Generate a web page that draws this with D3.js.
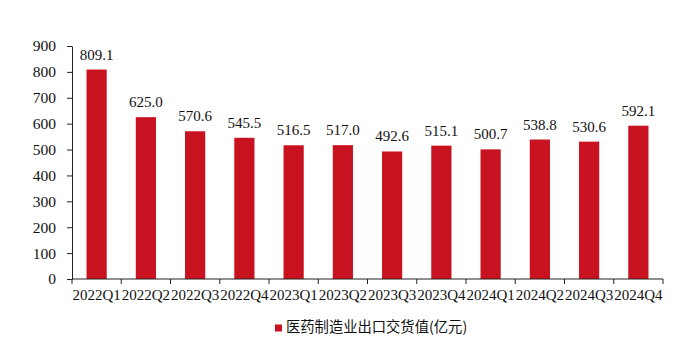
<!DOCTYPE html>
<html>
<head>
<meta charset="utf-8">
<script src="https://cdn.jsdelivr.net/npm/d3@7"></script>
<style>
  body { margin: 0; background: #fff; }
  svg { display: block; }
</style>
</head>
<body>
<div id="chart"></div>
<script>
// 季度
const quarters = ["2022Q1", "2022Q2", "2022Q3", "2022Q4", "2023Q1", "2023Q2",
                  "2023Q3", "2023Q4", "2024Q1", "2024Q2", "2024Q3", "2024Q4"];
// 医药制造业出口交货值(亿元)
const exportValues = [809.1, 625.0, 570.6, 545.5, 516.5, 517.0,
                      492.6, 515.1, 500.7, 538.8, 530.6, 592.1];
const yTicks = [0, 100, 200, 300, 400, 500, 600, 700, 800, 900];
const seriesName = "医药制造业出口交货值(亿元)";

const width = 700, height = 353;
const margin = { left: 72, right: 37, top: 46, bottom: 74 };
const barColor = "#c8121f";
const serif = "'Liberation Serif', 'DejaVu Serif', serif";

const svg = d3.select("#chart").append("svg")
    .attr("width", width)
    .attr("height", height);

const x = d3.scaleBand()
    .domain(quarters)
    .range([margin.left, width - margin.right])
    .paddingInner(0.59)
    .paddingOuter(0.295);

const y = d3.scaleLinear()
    .domain([0, 900])
    .range([height - margin.bottom, margin.top]);

// 柱子
svg.selectAll("rect.bar")
    .data(exportValues)
    .enter()
    .append("rect")
    .attr("class", "bar")
    .attr("x", (d, i) => x(quarters[i]))
    .attr("y", d => y(d))
    .attr("width", x.bandwidth())
    .attr("height", d => y(0) - y(d))
    .attr("fill", barColor);

// 数值标签
svg.selectAll("text.val")
    .data(exportValues)
    .enter()
    .append("text")
    .attr("class", "val")
    .attr("x", (d, i) => x(quarters[i]) + x.bandwidth() / 2)
    .attr("y", d => y(d) - 10)
    .attr("text-anchor", "middle")
    .attr("font-family", serif)
    .attr("font-size", "15px")
    .attr("fill", "#111")
    .text(d => d.toFixed(1));

// y轴
const yAxis = svg.append("g")
    .attr("transform", `translate(${margin.left},0)`)
    .call(d3.axisLeft(y).tickValues(yTicks).tickSize(5).tickSizeOuter(0).tickPadding(11));
yAxis.select(".domain").attr("stroke", "#222");
yAxis.selectAll(".tick line").attr("stroke", "#222");
yAxis.selectAll("text")
    .attr("font-family", serif)
    .attr("font-size", "15.5px")
    .attr("fill", "#111");

// x轴：刻度在类别之间
const xAxisG = svg.append("g")
    .attr("transform", `translate(0,${y(0)})`);
xAxisG.append("line")
    .attr("x1", margin.left)
    .attr("x2", width - margin.right)
    .attr("stroke", "#222");
const boundaries = d3.range(quarters.length + 1).map(i => margin.left + i * (width - margin.left - margin.right) / quarters.length);
xAxisG.selectAll("line.tick")
    .data(boundaries)
    .enter()
    .append("line")
    .attr("class", "tick")
    .attr("x1", d => d)
    .attr("x2", d => d)
    .attr("y1", 0)
    .attr("y2", 5)
    .attr("stroke", "#222");
xAxisG.selectAll("text")
    .data(quarters)
    .enter()
    .append("text")
    .attr("x", d => x(d) + x.bandwidth() / 2)
    .attr("y", 21)
    .attr("text-anchor", "middle")
    .attr("font-family", serif)
    .attr("font-size", "15px")
    .attr("fill", "#111")
    .text(d => d);

// 图例
const legend = svg.append("g")
    .attr("transform", "translate(275,321)");
legend.append("rect")
    .attr("width", 7)
    .attr("height", 7)
    .attr("y", 3.5)
    .attr("fill", barColor);
legend.append("text")
    .attr("x", 11)
    .attr("y", 7)
    .attr("dominant-baseline", "middle")
    .attr("font-family", "'Noto Sans CJK SC', sans-serif")
    .attr("font-size", "14.3px")
    .attr("fill", "#111")
    .text(seriesName);
</script>
</body>
</html>
